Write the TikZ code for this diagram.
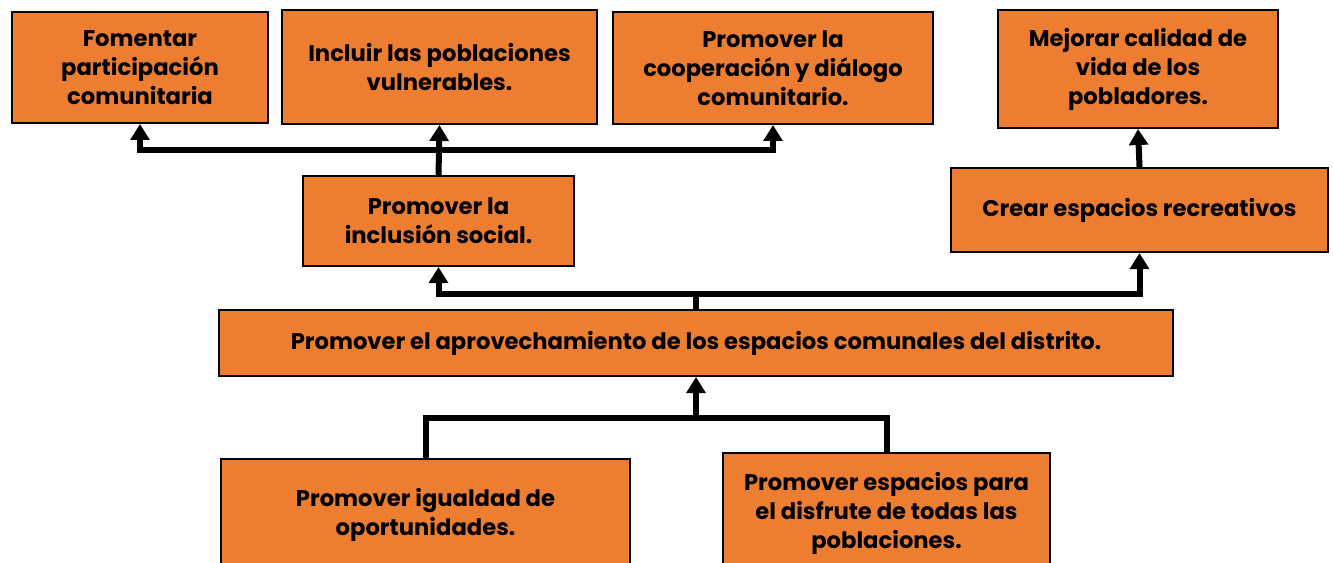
\documentclass[tikz,border=0pt]{standalone}
\usepackage{fontspec}
\setmainfont{Poppins}
\usepackage{xcolor}
\usetikzlibrary{arrows.meta, calc}
\definecolor{naranja}{HTML}{ED7D31}

\begin{document}
\begin{tikzpicture}[x=0.75pt, y=-0.75pt,
        caja/.style={draw=black, line width=1.5pt, fill=naranja, align=center,
            font=\bfseries\fontsize{17}{21.75}\selectfont, inner sep=0pt},
        linea/.style={line width=4.5pt},
        flecha/.style={linea, -{Triangle[width=14pt, length=12pt]}}]
            \useasboundingbox (0,0) rectangle (1333,563);
            \clip (0,0) rectangle (1333,563);

            \node[caja, minimum width=192pt, minimum height=83.25pt] (fom) at (140,67.5) {Fomentar\\participación\\comunitaria};
            \node[caja, minimum width=236.25pt, minimum height=85.5pt] (incl) at (439.5,67) {Incluir las poblaciones\\vulnerables.};
            \node[caja, minimum width=240pt, minimum height=84pt] (coop) at (773,68) {Promover la\\cooperación y diálogo\\comunitario.};
            \node[caja, minimum width=210pt, minimum height=88.5pt] (mej) at (1138,69) {Mejorar calidad de\\vida de los\\pobladores.};
            \node[caja, minimum width=203.25pt, minimum height=67.5pt] (incsoc) at (438.5,221) {Promover la\\inclusión social.};
            \node[caja, minimum width=282.75pt, minimum height=63pt] (crear) at (1139.5,210) {Crear espacios recreativos};
            \node[caja, minimum width=715.5pt, minimum height=49.5pt] (aprov) at (696,343) {Promover el aprovechamiento de los espacios comunales del distrito.};
            \node[caja, minimum width=306.75pt, minimum height=84pt] (igual) at (425.5,515) {Promover igualdad de\\oportunidades.};
            \node[caja, minimum width=245.25pt, minimum height=90pt] (disf) at (886.5,513) {Promover espacios para\\el disfrute de todas las\\poblaciones.};

            \coordinate (j1) at (incsoc.north |- 0,150);
            \coordinate (j2) at (aprov.north |- 0,294);
            \coordinate (j3) at (aprov.south |- 0,418);

            \draw[flecha] (incsoc.north) -- (incl.south);
            \foreach \dest in {fom, coop} {
                \draw[flecha] (j1) -| (\dest.south);
            }
            \draw[linea] (aprov.north) -- (j2);
            \foreach \dest in {incsoc, crear} {
                \draw[flecha] (j2) -| (\dest.south);
            }
            \draw[flecha] (crear.north) -- (mej.south);
            \draw[linea] (igual.north) |- (j3) -| (disf.north);
            \draw[flecha] (j3) -- (aprov.south);
        \end{tikzpicture}
\end{document}
